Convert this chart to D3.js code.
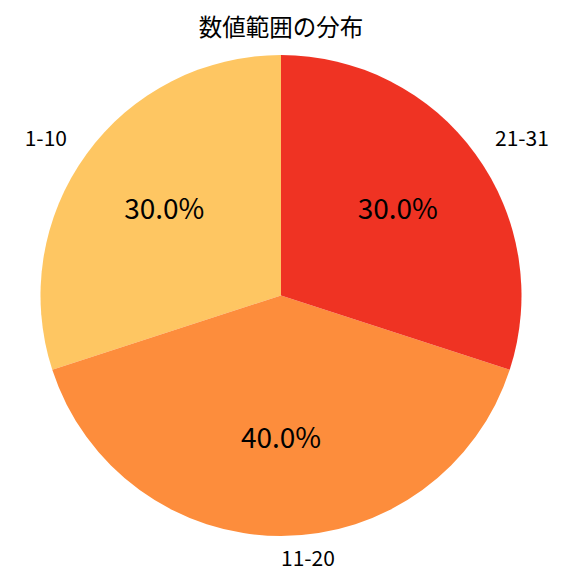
<!DOCTYPE html>
<html><head><meta charset="utf-8">
<script src="https://cdn.jsdelivr.net/npm/d3@7"></script>
<style>html,body{margin:0;padding:0;background:#fff;}svg{display:block;}text{font-family:"Noto Sans CJK JP","Noto Sans",sans-serif;}</style>
</head><body>
<script>
const title = "数値範囲の分布";
const categories = ["1-10", "11-20", "21-31"];
const values = [30, 40, 30];
const colors = ["#FEC662", "#FD8D3C", "#EF3323"];

const W = 576, H = 576, cx = 281, cy = 295.5, R = 240.5;
const svg = d3.select("body").append("svg").attr("width", W).attr("height", H);
const data = categories.map((c, i) => ({cat: c, value: values[i], color: colors[i]}));
const pie = d3.pie().sort(null).value(d => d.value).startAngle(0).endAngle(-2 * Math.PI);
const arcs = pie(data);
const arc = d3.arc().innerRadius(0).outerRadius(R);
const g = svg.append("g").attr("transform", `translate(${cx},${cy})`);
const total = d3.sum(values);

g.selectAll("path").data(arcs).join("path").attr("d", arc).attr("fill", d => d.data.color);

function pos(d, k) {
  const a = (d.startAngle + d.endAngle) / 2;
  return [k * R * Math.sin(a), -k * R * Math.cos(a)];
}
g.selectAll("text.pct").data(arcs).join("text").attr("class", "pct")
  .attr("x", d => pos(d, 0.6)[0]).attr("y", d => pos(d, 0.6)[1] - 4)
  .attr("text-anchor", "middle").attr("dominant-baseline", "central")
  .attr("font-size", 28).attr("fill", "#000")
  .text(d => (d.data.value / total * 100).toFixed(1) + "%");
g.selectAll("text.lbl").data(arcs).join("text").attr("class", "lbl")
  .attr("x", d => pos(d, 1.1)[0]).attr("y", d => pos(d, 1.1)[1] - 3)
  .attr("text-anchor", d => pos(d, 1.1)[0] < -1 ? "end" : "start")
  .attr("dominant-baseline", "central")
  .attr("font-size", 21).attr("fill", "#000")
  .text(d => d.data.cat);

svg.append("text").attr("x", cx).attr("y", 26).attr("text-anchor", "middle")
  .attr("dominant-baseline", "central").attr("font-size", 23.5).attr("fill", "#000")
  .text(title);
</script>
</body></html>
